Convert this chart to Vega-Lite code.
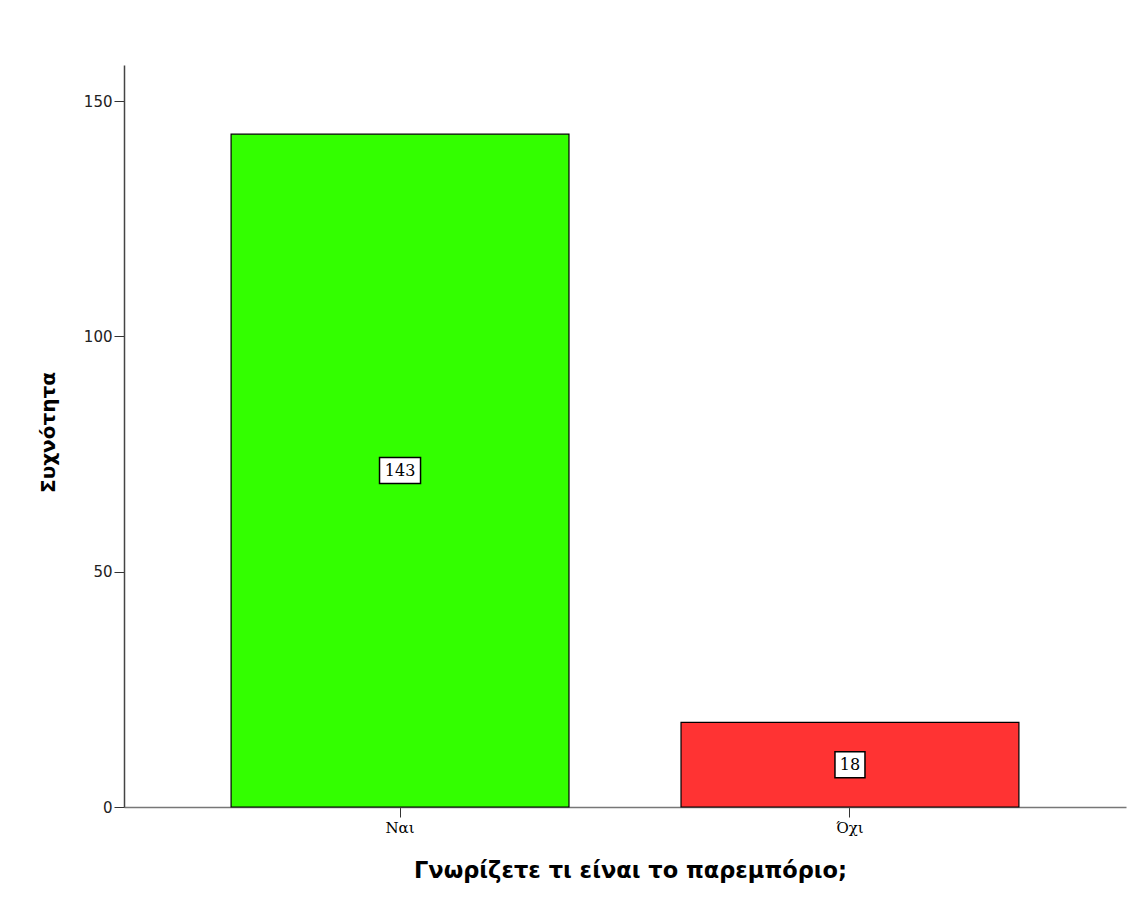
{
  "$schema": "https://vega.github.io/schema/vega-lite/v6.json",
  "autosize": {"type": "none"},
  "padding": {"left": 124, "top": 65, "right": 7, "bottom": 101},
  "width": 1002,
  "height": 742,
  "background": "white",
  "config": {"view": {"stroke": null}},
  "data": {"values": [
    {"answer": "Ναι", "count": 143},
    {"answer": "Όχι", "count": 18}
  ]},
  "transform": [{"calculate": "datum.count / 2", "as": "mid"}],
  "encoding": {
    "x": {
      "field": "answer", "type": "nominal", "sort": null,
      "scale": {"paddingInner": 0.249, "paddingOuter": 0.238},
      "axis": {
        "title": "Γνωρίζετε τι είναι το παρεμπόριο;",
        "titleFont": "DejaVu Sans", "titleFontSize": 22.5, "titleFontWeight": "bold", "titleColor": "#000",
        "titleX": 506, "titleY": 63, "titleBaseline": "middle", "titleAnchor": null,
        "labelFont": "DejaVu Serif", "labelFontSize": 15, "labelColor": "#000", "labelAngle": 0,
        "labelPadding": 3, "tickSize": 10, "tickColor": "#333", "domainColor": "#777", "domainWidth": 1.5
      }
    }
  },
  "layer": [
    {
      "mark": {"type": "bar", "stroke": "#000", "strokeWidth": 1.2},
      "encoding": {
        "y": {
          "field": "count", "type": "quantitative",
          "scale": {"domain": [0, 157.7], "nice": false},
          "axis": {
            "title": "Συχνότητα", "values": [0, 50, 100, 150], "grid": false,
            "titleFont": "DejaVu Sans", "titleFontSize": 20, "titleFontWeight": "bold", "titleColor": "#000",
            "titleAngle": -90, "titleX": -76, "titleY": 367, "titleAlign": "center", "titleBaseline": "middle",
            "labelFont": "DejaVu Sans", "labelFontSize": 15, "labelColor": "#222", "labelPadding": 2,
            "tickSize": 10, "tickColor": "#333", "domainColor": "#444", "domainWidth": 1.5
          }
        },
        "color": {
          "field": "answer", "type": "nominal",
          "scale": {"domain": ["Ναι", "Όχι"], "range": ["#33FF00", "#FF3333"]},
          "legend": null
        }
      }
    },
    {
      "mark": {"type": "point", "filled": true, "fill": "white", "stroke": "#000", "strokeWidth": 1.5, "opacity": 1},
      "encoding": {
        "y": {"field": "mid", "type": "quantitative"},
        "shape": {
          "condition": {"test": "datum.count >= 100", "value": "M-1,-0.634H1V0.634H-1Z"},
          "value": "M-1,-0.867H1V0.867H-1Z"
        },
        "size": {
          "condition": {"test": "datum.count >= 100", "value": 1681},
          "value": 900
        }
      }
    },
    {
      "mark": {"type": "text", "font": "DejaVu Serif", "fontSize": 16, "color": "#000", "baseline": "middle", "align": "center"},
      "encoding": {
        "y": {"field": "mid", "type": "quantitative"},
        "text": {"field": "count", "type": "quantitative"}
      }
    }
  ]
}
